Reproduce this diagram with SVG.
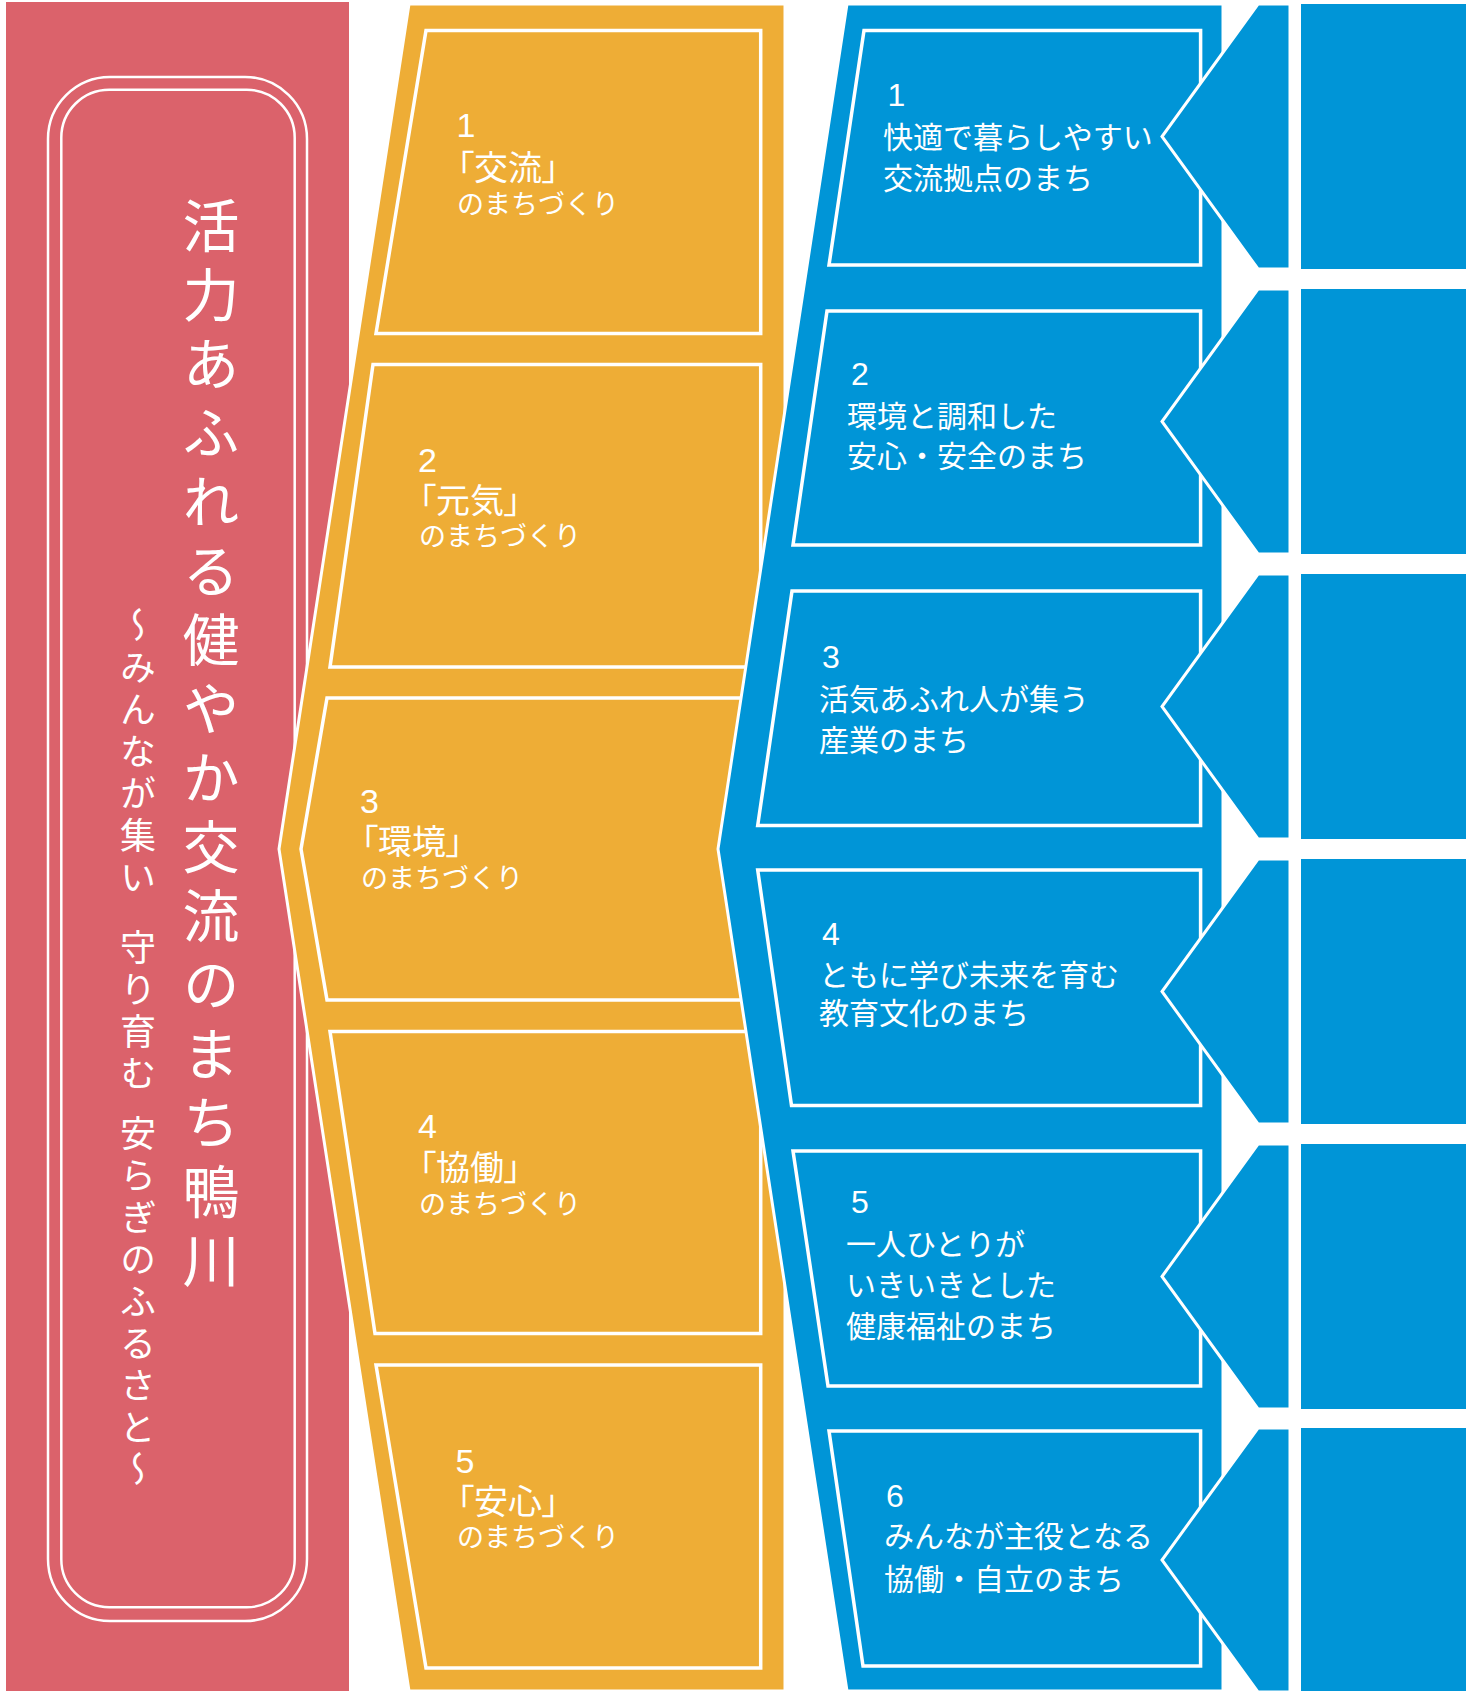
<svg xmlns="http://www.w3.org/2000/svg" width="1466" height="1691" viewBox="0 0 1466 1691">
<style>
.pink{fill:#DB626B}
.org{fill:#EEAD36;stroke:#fff;stroke-width:3}
.blu{fill:#0095D7}
.bluE{fill:#0095D7;stroke:#fff;stroke-width:3}
.box{fill:none;stroke:#fff;stroke-width:3.5}
.rr{fill:none;stroke:#fff;stroke-width:2.5}
.t{fill:#fff;font-family:"Liberation Sans","Noto Sans CJK JP",sans-serif}
.br{font-size:34px;font-feature-settings:"palt"}
.sm{font-size:27px;font-family:"Noto Sans CJK JP",sans-serif}
.dg{font-size:34px}
.bt{font-size:30px;font-family:"Noto Sans CJK JP",sans-serif}
.bd{font-size:32px}
.vt{fill:#fff;font-family:"Noto Sans CJK JP",sans-serif;writing-mode:vertical-rl}
</style>

<g id="vision">
<rect class="pink" x="6" y="2" width="343" height="1689"/>
<rect class="rr" x="48" y="77" width="259" height="1544" rx="62" ry="62"/>
<rect class="rr" x="61.3" y="89.7" width="233.4" height="1517.6" rx="48" ry="48"/>
<text class="vt" x="211" y="197" font-size="57" letter-spacing="12">活力あふれる健やか交流のまち鴨川</text>
<text class="vt" x="138" y="607" font-size="36" letter-spacing="6">～みんなが集い<tspan dy="14"> 守り育む</tspan><tspan dy="4"> 安らぎのふるさと～</tspan></text>
</g>

<g id="themes">
<polygon class="org" points="409,4 785,4 785,1691 409,1691 279,849"/>
</g>

<g id="theme1">
<polygon class="box" points="426,30.5 760.7,30.5 760.7,333.5 376,333.5"/>
<text class="t"><tspan class="dg" x="456.5" y="137">1</tspan><tspan class="br" x="457" y="180">「交流」</tspan><tspan class="sm" x="457" y="214">のまちづくり</tspan></text>
</g>
<g id="theme2">
<polygon class="box" points="373,364.5 760.7,364.5 760.7,667 330,667"/>
<text class="t"><tspan class="dg" x="418" y="471.5">2</tspan><tspan class="br" x="419" y="513">「元気」</tspan><tspan class="sm" x="419" y="546">のまちづくり</tspan></text>
</g>
<g id="theme3">
<polygon class="box" points="327,698 760.7,698 760.7,1000 327,1000 301,849"/>
<text class="t"><tspan class="dg" x="360" y="813">3</tspan><tspan class="br" x="361" y="854">「環境」</tspan><tspan class="sm" x="361" y="888">のまちづくり</tspan></text>
</g>
<g id="theme4">
<polygon class="box" points="330,1031.5 760.7,1031.5 760.7,1333.5 375,1333.5"/>
<text class="t"><tspan class="dg" x="418" y="1138">4</tspan><tspan class="br" x="419" y="1180">「協働」</tspan><tspan class="sm" x="419" y="1213.5">のまちづくり</tspan></text>
</g>
<g id="theme5">
<polygon class="box" points="376,1365 760.7,1365 760.7,1668 426,1668"/>
<text class="t"><tspan class="dg" x="455.5" y="1472.5">5</tspan><tspan class="br" x="457" y="1513.5">「安心」</tspan><tspan class="sm" x="457" y="1546.5">のまちづくり</tspan></text>
</g>

<g id="goals">
<polygon class="bluE" points="847,4 1223,4 1223,1691 847,1691 718,849"/>
</g>

<g id="goal1">
<polygon class="box" points="864,30.5 1200.6,30.5 1200.6,265 829,265"/>
<text class="t"><tspan class="bd" x="887.5" y="106">1</tspan><tspan class="bt" x="883" y="148">快適で暮らしやすい</tspan><tspan class="bt" x="883" y="188.5">交流拠点のまち</tspan></text>
</g>
<g id="goal2">
<polygon class="box" points="827,311 1200.6,311 1200.6,545 793,545"/>
<text class="t"><tspan class="bd" x="851" y="385">2</tspan><tspan class="bt" x="847" y="427">環境と調和した</tspan><tspan class="bt" x="847" y="467">安心・安全のまち</tspan></text>
</g>
<g id="goal3">
<polygon class="box" points="792,591 1200.6,591 1200.6,825.5 757.7,825.5"/>
<text class="t"><tspan class="bd" x="822" y="668">3</tspan><tspan class="bt" x="819" y="709.5">活気あふれ人が集う</tspan><tspan class="bt" x="819" y="751">産業のまち</tspan></text>
</g>
<g id="goal4">
<polygon class="box" points="757.7,870 1200.6,870 1200.6,1105.5 791.5,1105.5"/>
<text class="t"><tspan class="bd" x="822" y="945">4</tspan><tspan class="bt" x="819" y="985.5">ともに学び未来を育む</tspan><tspan class="bt" x="819" y="1024">教育文化のまち</tspan></text>
</g>
<g id="goal5">
<polygon class="box" points="793,1151 1200.6,1151 1200.6,1386 828,1386"/>
<text class="t"><tspan class="bd" x="851" y="1213">5</tspan><tspan class="bt" x="846" y="1255">一人ひとりが</tspan><tspan class="bt" x="846" y="1296">いきいきとした</tspan><tspan class="bt" x="846" y="1337">健康福祉のまち</tspan></text>
</g>
<g id="goal6">
<polygon class="box" points="829,1431 1200.6,1431 1200.6,1666 863,1666"/>
<text class="t"><tspan class="bd" x="886" y="1506.5">6</tspan><tspan class="bt" x="884" y="1546.5">みんなが主役となる</tspan><tspan class="bt" x="884" y="1589.5">協働・自立のまち</tspan></text>
</g>

<g id="connectors">
<polygon class="bluE" points="1258,4 1290,4 1290,269 1258,269 1162,136.5"/>
<polygon class="bluE" points="1258,289 1290,289 1290,554 1258,554 1162,421.5"/>
<polygon class="bluE" points="1258,574 1290,574 1290,839 1258,839 1162,706.5"/>
<polygon class="bluE" points="1258,859 1290,859 1290,1124 1258,1124 1162,991.5"/>
<polygon class="bluE" points="1258,1144 1290,1144 1290,1409 1258,1409 1162,1276.5"/>
<polygon class="bluE" points="1258,1428 1290,1428 1290,1692 1258,1692 1162,1560"/>
</g>

<g id="measures">
<rect class="blu" x="1301" y="4" width="165" height="265"/>
<rect class="blu" x="1301" y="289" width="165" height="265"/>
<rect class="blu" x="1301" y="574" width="165" height="265"/>
<rect class="blu" x="1301" y="859" width="165" height="265"/>
<rect class="blu" x="1301" y="1144" width="165" height="265"/>
<rect class="blu" x="1301" y="1428" width="165" height="263"/>
</g>
</svg>
